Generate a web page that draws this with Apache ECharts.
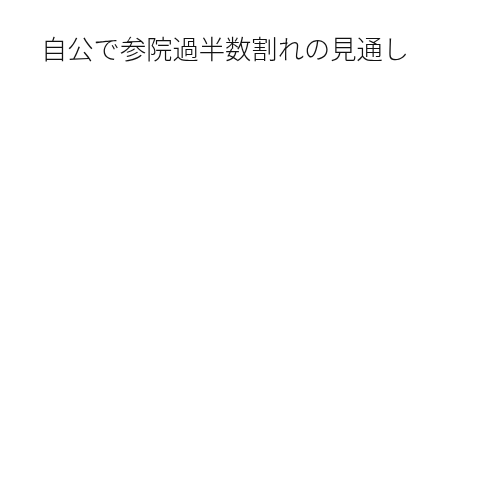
<!DOCTYPE html>
<html>
<head>
<meta charset="utf-8">
<script src="https://cdn.jsdelivr.net/npm/echarts@6/dist/echarts.min.js"></script>
<style>html,body{margin:0;padding:0;background:#fff}#c{width:500px;height:500px}</style>
</head>
<body>
<div id="c"></div>
<script>
const titleText = '自公で参院過半数割れの見通し';
const categories = [];
const values = [];

const chart = echarts.init(document.getElementById('c'));
chart.setOption({
  backgroundColor: '#ffffff',
  animation: false,
  title: {
    text: titleText,
    left: 36,
    top: 31,
    textStyle: {
      fontFamily: '"Noto Sans CJK JP", sans-serif',
      fontSize: 26.3,
      fontWeight: 300,
      color: '#111'
    }
  },
  series: [{
    type: 'pie',
    radius: '50%',
    center: ['50%', '55%'],
    data: categories.map((c, i) => ({ name: c, value: values[i] })),
    label: { show: false },
    emptyCircleStyle: { color: 'transparent' }
  }]
});
</script>
</body>
</html>
